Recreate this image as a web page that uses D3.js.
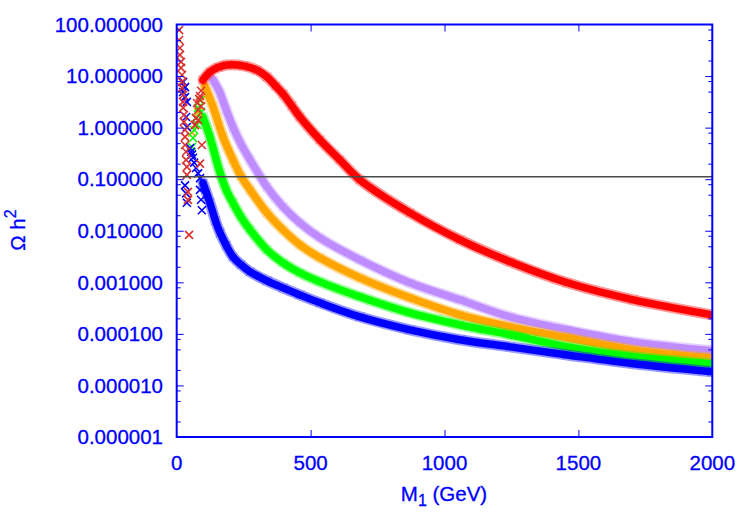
<!DOCTYPE html>
<html>
<head>
<meta charset="utf-8">
<script src="https://cdn.jsdelivr.net/npm/d3@7"></script>
<style>
  html, body { margin: 0; padding: 0; background: #fff; }
  svg { display: block; font-family: "Liberation Sans", Arial, sans-serif; }
  .lbl { fill: #0000ff; stroke: #0000ff; stroke-width: 0.3px; font-size: 20.5px; }
</style>
</head>
<body>
<svg id="chart" width="750" height="525"></svg>
<script>
// ── Data (M1 in GeV, relic density Omega h^2) ──
var redM      = [98, 124, 155, 187, 250, 300, 337, 370, 397, 430, 460, 535, 609, 684, 871, 1058, 1245, 1459, 1705, 2000];
var redOmega  = [8.4, 12, 14.8, 16.4, 15.8, 13, 9.6, 6.4, 4.5, 2.64, 1.61, 0.578, 0.237, 0.097, 0.0222, 0.00667, 0.0025, 9.8e-4, 4.58e-4, 2.34e-4];

var purpleM     = [136, 162, 185, 210, 240, 274, 337, 397, 460, 535, 684, 871, 1058, 1245, 1459, 1705, 2000];
var purpleOmega = [8.4, 4.7, 2.2, 1.03, 0.48, 0.237, 0.0709, 0.0291, 0.0142, 0.00728, 0.00273, 9.8e-4, 4.58e-4, 2.14e-4, 1.2e-4, 7.0e-5, 4.7e-5];

var orangeM     = [106, 136, 173, 210, 240, 274, 337, 397, 460, 535, 684, 871, 1058, 1245, 1459, 1705, 2000];
var orangeOmega = [6.15, 2.52, 0.66, 0.237, 0.115, 0.0621, 0.0222, 0.0104, 0.00533, 0.00298, 0.00122, 5.0e-4, 2.34e-4, 1.37e-4, 8.4e-5, 4.9e-5, 3.4e-5];

var greenM      = [98, 124, 162, 185, 210, 240, 274, 337, 397, 460, 535, 684, 871, 1058, 1245, 1459, 1705, 2000];
var greenOmega  = [1.61, 0.66, 0.132, 0.062, 0.0348, 0.0185, 0.0104, 0.00426, 0.00239, 0.00153, 0.00102, 5.24e-4, 2.56e-4, 1.5e-4, 9.6e-5, 5.6e-5, 3.6e-5, 2.63e-5];

var blueM       = [98, 124, 145, 162, 185, 210, 240, 274, 337, 397, 460, 535, 684, 871, 1058, 1245, 1459, 1705, 2000];
var blueOmega   = [0.0848, 0.0348, 0.0155, 0.0091, 0.0052, 0.00312, 0.0022, 0.0016, 0.00107, 7.8e-4, 5.7e-4, 4.0e-4, 2.14e-4, 1.2e-4, 7.7e-5, 5.6e-5, 3.9e-5, 2.63e-5, 1.85e-5];

// scattered low-mass points
var redLowM      = [9, 9, 12, 12, 16, 16, 20, 20, 20, 24, 24, 24, 27, 27, 31, 31, 31, 35, 35, 38, 38, 42, 42, 46, 68, 72, 76, 80, 84, 87, 91, 94, 87, 80, 91];
var redLowOmega  = [78, 50, 35, 25.7, 18.8, 14.4, 10.5, 7.7, 5.9, 4.3, 3.15, 2.41, 1.76, 1.29, 0.9, 0.66, 0.46, 0.34, 0.237, 0.173, 0.121, 0.0567, 0.0397, 0.0083, 1.12, 1.53, 3.0, 2.2, 3.6, 4.1, 5.2, 0.46, 0.2, 1.4, 2.6];
var blueLowM     = [24, 31, 24, 31, 38, 35, 38, 50, 54, 57, 61, 65, 72, 80, 87, 31, 35, 38, 87, 91, 94];
var blueLowOmega = [7.7, 6.1, 4.9, 3.9, 3.15, 1.61, 1.03, 0.4, 0.34, 0.3, 0.26, 0.21, 0.165, 0.13, 0.105, 0.076, 0.053, 0.035, 0.062, 0.04, 0.025];
var greenLowM     = [57, 65, 72, 80, 87, 61, 76, 91];
var greenLowOmega = [0.42, 0.9, 1.55, 2.41, 3.4, 0.63, 1.14, 2.0];
var orangeLowM     = [57, 68, 80, 91];
var orangeLowOmega = [0.8, 1.14, 2.0, 3.4];

var planckOmega = 0.112;

var xTicks = [0, 500, 1000, 1500, 2000];
var yTicks = [1e-6, 1e-5, 1e-4, 1e-3, 1e-2, 1e-1, 1, 10, 100];

(function () {
  'use strict';

  var svg = d3.select('#chart');
  var left = 176.7, right = 712.3, top = 24.5, bottom = 437;
  var axisColor = '#0000ff';

  var x = d3.scaleLinear().domain([0, 2000]).range([left, right]);
  var y = d3.scaleLog().domain([1e-6, 100]).range([bottom, top]);

  // minor ticks at 2, 5, 8 of each decade
  var minorTicks = [];
  yTicks.forEach(function (t) {
    if (t < 100) [2, 5, 8].forEach(function (k) { minorTicks.push(t * k); });
  });

  var zip = function (ms, os) { return ms.map(function (m, i) { return { m: m, o: os[i] }; }); };

  var series = [
    { color: '#bf8cff', band: zip(purpleM, purpleOmega), low: [] },
    { color: '#ffa500', band: zip(orangeM, orangeOmega), low: zip(orangeLowM, orangeLowOmega) },
    { color: '#00ff00', band: zip(greenM, greenOmega), low: zip(greenLowM, greenLowOmega) },
    { color: '#0000ff', band: zip(blueM, blueOmega), low: zip(blueLowM, blueLowOmega) },
    { color: '#ff0000', band: zip(redM, redOmega), low: zip(redLowM, redLowOmega) }
  ];

  svg.append('clipPath').attr('id', 'plotClip').append('rect')
    .attr('x', left).attr('y', top).attr('width', right - left).attr('height', bottom - top);

  var plot = svg.append('g').attr('clip-path', 'url(#plotClip)');

  var line = d3.line()
    .x(function (d) { return x(d.m); })
    .y(function (d) { return y(d.o); })
    .curve(d3.curveCatmullRom.alpha(0.5));

  function cross(sel, r) {
    sel.attr('d', function (d) {
      var cx = x(d.m), cy = y(d.o);
      return 'M' + (cx - r) + ',' + (cy - r) + 'L' + (cx + r) + ',' + (cy + r) +
             'M' + (cx - r) + ',' + (cy + r) + 'L' + (cx + r) + ',' + (cy - r);
    });
  }

  // ── Bands of dense markers ──
  series.forEach(function (s) {
    var g = plot.append('g');
    g.append('path').datum(s.band).attr('d', line)
      .attr('fill', 'none').attr('stroke', s.color).attr('stroke-width', 11)
      .attr('stroke-opacity', 0.4).attr('stroke-linecap', 'round');
    g.append('path').datum(s.band).attr('d', line)
      .attr('fill', 'none').attr('stroke', s.color).attr('stroke-width', 7.5)
      .attr('stroke-linecap', 'round');
    g.selectAll('path.mk').data(s.band).join('path').attr('class', 'mk')
      .call(cross, 4.5)
      .attr('fill', 'none').attr('stroke', s.color).attr('stroke-width', 1)
      .attr('stroke-opacity', 0.4);
  });

  // ── Low-mass scatter ──
  series.forEach(function (s) {
    plot.append('g').selectAll('path').data(s.low).join('path')
      .call(cross, 4)
      .attr('fill', 'none')
      .attr('stroke', s.color === '#ff0000' ? '#dc3030' : s.color)
      .attr('stroke-width', 1.6);
  });

  // ── Reference line ──
  svg.append('line')
    .attr('x1', x(0)).attr('x2', x(2000))
    .attr('y1', y(planckOmega)).attr('y2', y(planckOmega))
    .attr('stroke', '#4a4a4a').attr('stroke-width', 1.5);

  // ── Axes (ticks inward, mirrored) ──
  var fmtY = d3.format('.6f');

  svg.append('g').attr('transform', 'translate(0,' + bottom + ')')
    .call(d3.axisTop(x).tickValues(xTicks.slice(1, -1)).tickSize(7).tickFormat(''));
  svg.append('g').attr('transform', 'translate(0,' + top + ')')
    .call(d3.axisBottom(x).tickValues(xTicks.slice(1, -1)).tickSize(7).tickFormat(''));
  svg.append('g').attr('transform', 'translate(' + left + ',0)')
    .call(d3.axisRight(y).tickValues(yTicks.slice(1, -1)).tickSize(7).tickFormat(''));
  svg.append('g').attr('transform', 'translate(' + right + ',0)')
    .call(d3.axisLeft(y).tickValues(yTicks.slice(1, -1)).tickSize(7).tickFormat(''));
  svg.append('g').attr('transform', 'translate(' + left + ',0)')
    .call(d3.axisRight(y).tickValues(minorTicks).tickSize(4).tickFormat(''));
  svg.append('g').attr('transform', 'translate(' + right + ',0)')
    .call(d3.axisLeft(y).tickValues(minorTicks).tickSize(4).tickFormat(''));

  svg.selectAll('.domain').remove();
  svg.selectAll('.tick line').attr('stroke', axisColor).attr('stroke-width', 1);

  svg.append('rect')
    .attr('x', left).attr('y', top).attr('width', right - left).attr('height', bottom - top)
    .attr('fill', 'none').attr('stroke', axisColor).attr('stroke-width', 2);

  // tick labels
  svg.append('g').selectAll('text').data(xTicks).join('text')
    .attr('class', 'lbl')
    .attr('x', function (d) { return x(d); }).attr('y', 469.5)
    .attr('text-anchor', 'middle')
    .text(function (d) { return d; });

  svg.append('g').selectAll('text').data(yTicks).join('text')
    .attr('class', 'lbl')
    .attr('x', 163).attr('y', function (d) { return y(d) + 7.3; })
    .attr('text-anchor', 'end')
    .text(function (d) { return fmtY(d); });

  // ── Axis titles ──
  var xt = svg.append('text').attr('class', 'lbl').attr('x', 444).attr('y', 501)
    .attr('text-anchor', 'middle');
  xt.append('tspan').text('M');
  xt.append('tspan').attr('font-size', 16).attr('dy', 5).text('1');
  xt.append('tspan').attr('dy', -5).text(' (GeV)');

  var yt = svg.append('text').attr('class', 'lbl')
    .attr('transform', 'translate(25,230) rotate(-90)')
    .attr('text-anchor', 'middle');
  yt.append('tspan').text('\u03a9 h');
  yt.append('tspan').attr('font-size', 16).attr('dy', -9).text('2');
})();
</script>
</body>
</html>
